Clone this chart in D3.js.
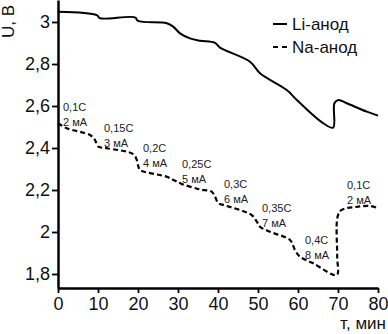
<!DOCTYPE html>
<html lang="ru">
<head>
    <meta charset="UTF-8">
    <title>Li / Na anode discharge</title>
    <script src="https://d3js.org/d3.v7.min.js"></script>
    <style>
        body { margin: 0; background: #fff; }
        svg { display: block; font-family: "Liberation Sans", Arial, sans-serif; }
    </style>
</head>
<body>
    <div id="chart"></div>

    <script>
        // Li-anode (solid) curve: time, min / voltage, V
        const liTime = [0, 9.7, 10.5, 19.25, 20, 27.2, 28.8, 30.5, 33, 35.5, 39.25, 40.5, 48, 50.5, 57.2, 59.7, 66.3, 68.8, 69.1, 70.1, 72.2, 77.2, 80];
        const liVolt = [3.049, 3.033, 3.018, 3.022, 3.005, 2.994, 2.978, 2.946, 2.922, 2.911, 2.901, 2.878, 2.811, 2.756, 2.676, 2.629, 2.518, 2.497, 2.613, 2.629, 2.613, 2.573, 2.554];

        // Na-anode (dashed) curve
        const naTime = [0, 2.2, 8, 9.25, 10.1, 12.2, 18.8, 19.7, 20.1, 20.5, 27.2, 29.25, 30.9, 35.5, 38.4, 39.25, 40.1, 41.3, 48.4, 49.7, 50.5, 53, 58, 59.25, 60.5, 63.8, 69.7, 69.8, 69.9, 70.9, 74.7, 78, 80];
        const naVolt = [2.518, 2.494, 2.462, 2.438, 2.406, 2.399, 2.371, 2.343, 2.311, 2.295, 2.263, 2.244, 2.229, 2.203, 2.192, 2.168, 2.137, 2.129, 2.081, 2.049, 2.025, 2.001, 1.962, 1.914, 1.882, 1.851, 1.795, 1.882, 2.073, 2.105, 2.120, 2.124, 2.113];

        // current step labels
        const rateLabels = ["0,1C", "0,15C", "0,2C", "0,25C", "0,3C", "0,35C", "0,4C", "0,1C"];
        const currentLabels = ["2 мА", "3 мА", "4 мА", "5 мА", "6 мА", "7 мА", "8 мА", "2 мА"];
        const labelTime = [1.25, 11.5, 21.25, 31, 41.5, 51, 61.75, 72.25];
        const labelVolt = [2.595, 2.495, 2.4, 2.324, 2.229, 2.114, 1.962, 2.224];

        const xTicks = [0, 10, 20, 30, 40, 50, 60, 70, 80];
        const yTicks = [1.8, 2, 2.2, 2.4, 2.6, 2.8, 3];
        const seriesNames = ["Li-анод", "Na-анод"];

        const W = 388, H = 334;
        const svg = d3.select("#chart").append("svg")
            .attr("width", W).attr("height", H);

        const x = d3.scaleLinear().domain([0, 80]).range([58, 378]);
        const y = d3.scaleLinear().domain([1.8, 3]).range([274, 22]);
        const yAxisScale = y.copy().domain([y.invert(288), y.invert(0)]).range([288, 0]);
        const fmt = d => String(d).replace(".", ",");

        // axes
        const gx = svg.append("g")
            .attr("transform", "translate(0,288)")
            .call(d3.axisBottom(x).tickValues(xTicks).tickSize(5).tickSizeOuter(0).tickFormat(d => d));
        const gy = svg.append("g")
            .attr("transform", "translate(58,0)")
            .call(d3.axisLeft(yAxisScale).tickValues(yTicks).tickSize(6).tickSizeOuter(0).tickFormat(fmt));

        [gx, gy].forEach(g => {
            g.select(".domain").attr("stroke", "#000").attr("stroke-width", 2.5);
            g.selectAll(".tick line").attr("stroke", "#000").attr("stroke-width", 1.8);
            g.selectAll(".tick text")
                .attr("fill", "#111")
                .style("font-size", "18px")
                .style("font-family", "'Liberation Sans', Arial, sans-serif");
        });
        gx.selectAll(".tick text").attr("dy", "0.8em");
        gy.selectAll(".tick text").attr("x", -8);

        // axis titles
        svg.append("text")
            .attr("transform", "translate(14,38) rotate(-90)")
            .attr("font-size", 17).attr("fill", "#111")
            .text("U, B");
        svg.append("text")
            .attr("x", 386).attr("y", 329)
            .attr("text-anchor", "end")
            .attr("font-size", 17).attr("fill", "#111")
            .text("т, мин");

        const line = d3.line()
            .x(d => x(d[0]))
            .y(d => y(d[1]))
            .curve(d3.curveCatmullRom.alpha(0.5));

        svg.append("path")
            .datum(d3.zip(liTime, liVolt))
            .attr("d", line)
            .attr("fill", "none").attr("stroke", "#000").attr("stroke-width", 2);

        svg.append("path")
            .datum(d3.zip(naTime, naVolt))
            .attr("d", line)
            .attr("fill", "none").attr("stroke", "#000").attr("stroke-width", 2.2)
            .attr("stroke-dasharray", "5,3");

        // step annotations
        const ann = svg.append("g")
            .attr("font-size", 11).attr("fill", "#222");
        labelTime.forEach((t, i) => {
            ann.append("text")
                .attr("x", x(t)).attr("y", y(labelVolt[i]))
                .attr("dy", "0.35em")
                .text(rateLabels[i]);
            ann.append("text")
                .attr("x", x(t)).attr("y", y(labelVolt[i]) + 15)
                .attr("dy", "0.35em")
                .text(currentLabels[i]);
        });

        // legend
        const leg = svg.append("g").attr("font-size", 17).attr("fill", "#111");
        seriesNames.forEach((name, i) => {
            const ly = 24 + i * 23;
            leg.append("line")
                .attr("x1", 273).attr("x2", 287)
                .attr("y1", ly).attr("y2", ly)
                .attr("stroke", "#000").attr("stroke-width", 2)
                .attr("stroke-dasharray", i === 1 ? "5,4" : null);
            leg.append("text")
                .attr("x", 292).attr("y", ly).attr("dy", "0.35em")
                .text(name);
        });
    </script>
</body>
</html>
